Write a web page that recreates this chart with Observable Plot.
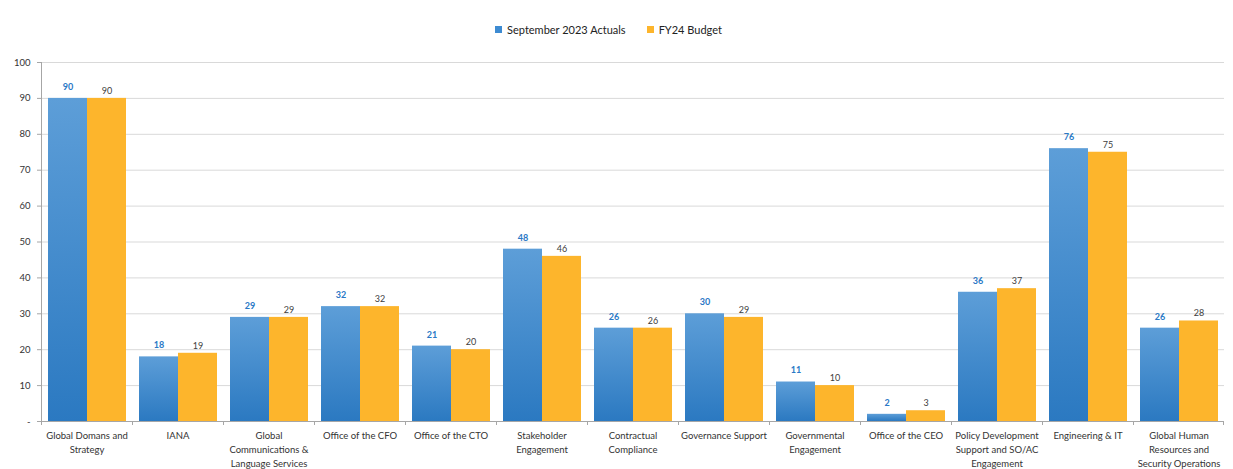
<!DOCTYPE html>
<html><head><meta charset="utf-8">
<script src="https://cdn.jsdelivr.net/npm/d3@7"></script>
<script src="https://cdn.jsdelivr.net/npm/@observablehq/plot@0.6"></script>
<style>
body{margin:0;background:#fff;font-family:Lato,"Open Sans",sans-serif;}
#legend{height:44px;box-sizing:border-box;padding:14px 16px 0 0;display:flex;justify-content:center;align-items:center;gap:21px;font-size:11px;color:#222;}
#legend .item{display:flex;align-items:center;height:30px;}
#legend .sw{width:7px;height:7px;margin-right:5px;display:inline-block;}
</style></head><body>
<div id="legend"></div><div id="chart"></div>
<script>
const categories = ["Global Domans and Strategy","IANA","Global Communications & Language Services","Office of the CFO","Office of the CTO","Stakeholder Engagement","Contractual Compliance","Governance Support","Governmental Engagement","Office of the CEO","Policy Development Support and SO/AC Engagement","Engineering & IT","Global Human Resources and Security Operations"];
const tickLabels = ["Global Domans and\nStrategy","IANA","Global\nCommunications &\nLanguage Services","Office of the CFO","Office of the CTO","Stakeholder\nEngagement","Contractual\nCompliance","Governance Support","Governmental\nEngagement","Office of the CEO","Policy Development\nSupport and SO/AC\nEngagement","Engineering & IT","Global Human\nResources and\nSecurity Operations"];
const actuals = [90,18,29,32,21,48,26,30,11,2,36,76,26];
const budget  = [90,19,29,32,20,46,26,29,10,3,37,75,28];
const seriesNames = ["September 2023 Actuals","FY24 Budget"];
const seriesColors = ["#3d8bd2","#fdb52c"];
const yTicks = [0,10,20,30,40,50,60,70,80,90,100];

const actualRows = categories.map((c,i)=>({category:c, series:seriesNames[0], value:actuals[i]}));
const budgetRows = categories.map((c,i)=>({category:c, series:seriesNames[1], value:budget[i]}));
const labelMap = new Map(categories.map((c,i)=>[c,tickLabels[i]]));

// legend
const lg = document.getElementById("legend");
seriesNames.forEach((s,i)=>{
  const it = document.createElement("div"); it.className="item";
  const sw = document.createElement("span"); sw.className="sw"; sw.style.background=seriesColors[i];
  it.appendChild(sw); it.appendChild(document.createTextNode(s)); lg.appendChild(it);
});

const plot = Plot.plot({
  width:1233, height:425, marginTop:18, marginBottom:48, marginLeft:39, marginRight:7,
  style:{fontFamily:"Lato, 'Open Sans', sans-serif", fontSize:"9.5px", color:"#333", background:"transparent"},
  fx:{domain:categories, padding:0, label:null, axis:null},
  x:{domain:seriesNames, paddingInner:0, paddingOuter:0.15, axis:null},
  y:{domain:[0,100], label:null},
  marks:[
    Plot.gridY({ticks:yTicks.slice(1), stroke:"#d9d9d9", strokeOpacity:1}),
    Plot.axisY({ticks:yTicks, tickFormat:d=>d===0?"-":String(d), tickSize:4, tickPadding:7, stroke:"#a6a6a6", fill:"#333", label:null}),
    Plot.axisFx({anchor:"bottom", tickSize:0, tickPadding:8, tickFormat:d=>labelMap.get(d), lineHeight:1.45, label:null, fill:"#333"}),
    Plot.barY(actualRows, {fx:"category", x:"series", y:"value", fill:"url(#gradBlue)", inset:0}),
    Plot.barY(budgetRows, {fx:"category", x:"series", y:"value", fill:seriesColors[1], inset:0}),
    Plot.text(actualRows, {fx:"category", x:"series", y:"value", text:d=>String(d.value), dy:-11.5, fill:"#2a78c6", fontWeight:"bold", fontSize:9}),
    Plot.text(budgetRows, {fx:"category", x:"series", y:"value", text:d=>String(d.value), dy:-7.5, fill:"#404040", fontSize:9})
  ]
});
document.getElementById("chart").appendChild(plot);

// gradient, axis lines, and category separator ticks (positions from Plot's scales)
const svg = d3.select(plot);
const defs = svg.insert("defs", ":first-child");
const g = defs.append("linearGradient").attr("id","gradBlue").attr("x1",0).attr("y1",0).attr("x2",0).attr("y2",1);
g.append("stop").attr("offset","0%").attr("stop-color","#5d9ed8");
g.append("stop").attr("offset","100%").attr("stop-color","#2b79c1");
const fx = plot.scale("fx"), y = plot.scale("y");
const bw = fx.bandwidth;
const x0 = fx.apply(categories[0]);
const xEnd = fx.apply(categories[categories.length-1]) + bw;
const y0 = y.apply(0), y100 = y.apply(100);
const ov = svg.append("g").attr("stroke","#a6a6a6").attr("stroke-width",1);
ov.append("line").attr("x1",x0+0.5).attr("x2",x0+0.5).attr("y1",y100).attr("y2",y0);
ov.append("line").attr("x1",x0).attr("x2",xEnd).attr("y1",y0+0.5).attr("y2",y0+0.5);
categories.forEach(c=>{
  const xx = fx.apply(c) + 0.5;
  ov.append("line").attr("x1",xx).attr("x2",xx).attr("y1",y0).attr("y2",y0+4);
});
ov.append("line").attr("x1",xEnd-0.5).attr("x2",xEnd-0.5).attr("y1",y0).attr("y2",y0+4);
</script>
</body></html>
